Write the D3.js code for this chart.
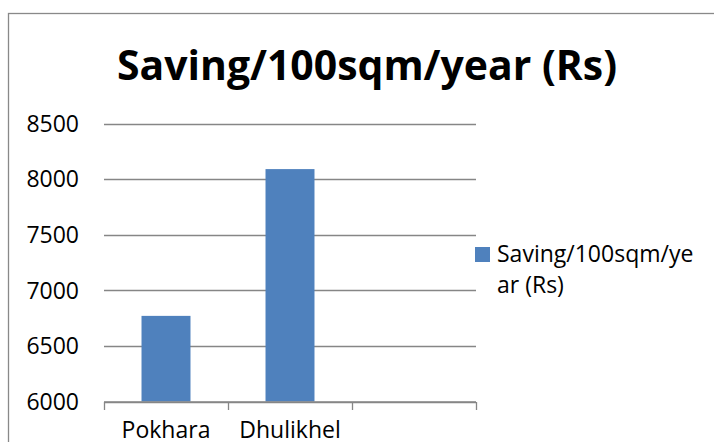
<!DOCTYPE html>
<html>
<head>
<meta charset="utf-8">
<style>
  body { margin: 0; background: #fff; }
  svg text { font-family: "Open Sans", "Noto Sans", sans-serif; fill: #000; }
</style>
</head>
<body>
<svg width="714" height="442"></svg>
<script src="https://cdn.jsdelivr.net/npm/d3@7/dist/d3.min.js"></script>
<script>
  var categories = ["Pokhara", "Dhulikhel", ""];
  var values = [6770, 8090, null];
  var yTicks = [6000, 6500, 7000, 7500, 8000, 8500];
  var seriesName = "Saving/100sqm/year (Rs)";
  var legendLines = ["Saving/100sqm/ye", "ar (Rs)"];

  var svg = d3.select("svg");

  // chart frame (runs off the right and bottom edge)
  svg.append("rect")
    .attr("x", 8.5).attr("y", 13.5)
    .attr("width", 800).attr("height", 500)
    .attr("fill", "none").attr("stroke", "#898989").attr("stroke-width", 1.3);

  var plotLeft = 104, plotRight = 476, plotTop = 123.5, plotBottom = 401.5;

  var x = d3.scaleBand().domain(categories).range([plotLeft, plotRight])
    .paddingInner(0.605).paddingOuter(0.3025);
  var y = d3.scaleLinear().domain([6000, 8500]).range([plotBottom, plotTop]);

  // gridlines
  svg.append("g")
    .selectAll("line").data(yTicks).enter().append("line")
    .attr("x1", plotLeft).attr("x2", plotRight)
    .attr("y1", function(d) { return Math.round(y(d)) + 0.5; })
    .attr("y2", function(d) { return Math.round(y(d)) + 0.5; })
    .attr("stroke", "#868686").attr("stroke-width", 1.3);

  // y labels
  svg.append("g")
    .selectAll("text").data(yTicks).enter().append("text")
    .attr("x", 79).attr("y", function(d) { return y(d); })
    .attr("dy", "0.36em")
    .attr("text-anchor", "end")
    .attr("font-size", "23px")
    .text(function(d) { return d; });

  // bars
  svg.append("g")
    .selectAll("rect").data(categories.filter(function(c, i) { return values[i] != null; }))
    .enter().append("rect")
    .attr("x", function(d) { return x(d); })
    .attr("width", x.bandwidth())
    .attr("y", function(d) { return y(values[categories.indexOf(d)]); })
    .attr("height", function(d) { return plotBottom - y(values[categories.indexOf(d)]); })
    .attr("fill", "#4F81BD");

  // x axis
  var xAxis = d3.axisBottom(x).tickSize(0).tickFormat(function(d) { return d; });
  var gx = svg.append("g").attr("transform", "translate(0," + (plotBottom + 0.5) + ")").call(xAxis);
  gx.select(".domain").attr("stroke", "#868686").attr("stroke-width", 1.3)
    .attr("d", "M" + plotLeft + ",0H" + plotRight);
  gx.selectAll(".tick text")
    .attr("font-size", "23px")
    .attr("font-family", null)
    .attr("y", 36).attr("dy", 0);

  var bounds = categories.map(function(c) { return x(c) - x.step() * x.paddingInner() / 2; });
  bounds.push(plotRight);
  gx.selectAll(".boundTick").data(bounds).enter().append("line")
    .attr("x1", function(d) { return Math.round(d) + 0.5; })
    .attr("x2", function(d) { return Math.round(d) + 0.5; })
    .attr("y1", 0).attr("y2", 8)
    .attr("stroke", "#868686").attr("stroke-width", 1.3);

  // title
  svg.append("text")
    .attr("x", 117).attr("y", 80)
    .attr("font-size", "42px").attr("font-weight", "bold")
    .attr("textLength", 500).attr("lengthAdjust", "spacingAndGlyphs")
    .text(seriesName);

  // legend
  var lg = svg.append("g");
  lg.append("rect").attr("x", 475).attr("y", 247).attr("width", 15).attr("height", 15)
    .attr("fill", "#4F81BD");
  lg.selectAll("text").data(legendLines).enter().append("text")
    .attr("x", 497)
    .attr("y", function(d, i) { return 262 + i * 31; })
    .attr("font-size", "23px")
    .text(function(d) { return d; });
</script>
</body>
</html>
